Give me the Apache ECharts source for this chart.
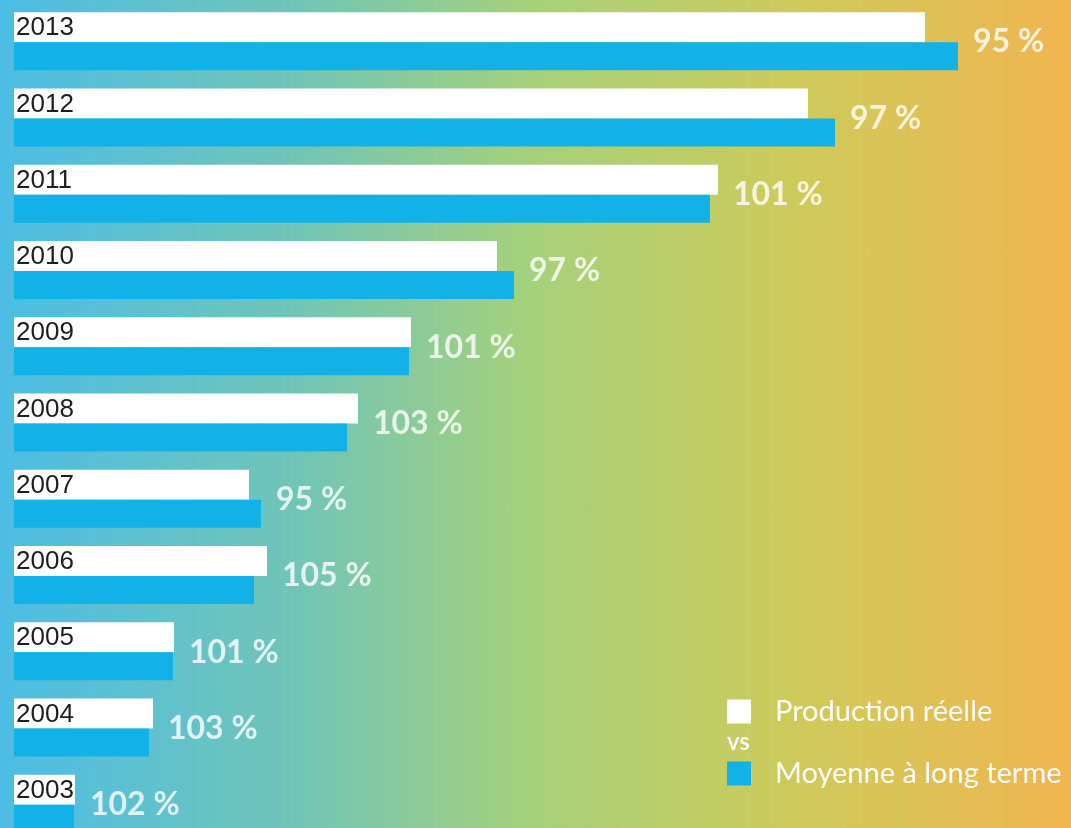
<!DOCTYPE html>
<html>
<head>
<meta charset="utf-8">
<script src="https://cdn.jsdelivr.net/npm/echarts@6/dist/echarts.min.js"></script>
<style>
html,body{margin:0;padding:0;width:1071px;height:828px;overflow:hidden;}
#chart{width:1071px;height:828px;background:linear-gradient(to right,#4cbde5 0%,#72c5b6 28%,#a6d17a 50%,#cfca5a 75%,#f1b550 100%);}
</style>
</head>
<body>
<div id="chart"></div>
<script>
var years = ['2013','2012','2011','2010','2009','2008','2007','2006','2005','2004','2003'];
var production = [911, 794, 704, 483, 397, 344, 235, 253, 160, 139, 61];
var moyenne = [944, 821, 696, 500, 395, 333, 247, 240, 159, 135, 60];
var ratioLabels = ['95 %','97 %','101 %','97 %','101 %','103 %','95 %','105 %','101 %','103 %','102 %'];

var labelPoints = years.map(function (y, i) {
  return [Math.max(production[i], moyenne[i]), y];
});

var chart = echarts.init(document.getElementById('chart'), null, {renderer: 'canvas'});
chart.setOption({
  backgroundColor: 'transparent',
  animation: false,
  grid: {left: 14, top: 3, width: 1057, height: 839, containLabel: false, outerBoundsMode: 'none'},
  xAxis: {
    type: 'value', min: 0, max: 1057,
    axisLine: {show: false}, axisTick: {show: false}, axisLabel: {show: false}, splitLine: {show: false}
  },
  yAxis: {
    type: 'category', data: years, inverse: true,
    axisLine: {show: false}, axisTick: {show: false}, axisLabel: {show: false}, splitLine: {show: false}
  },
  legend: {
    data: ['Production réelle', 'Moyenne à long terme'],
    orient: 'vertical', left: 727, top: 697,
    itemWidth: 24, itemHeight: 24, itemGap: 33, icon: 'rect', padding: 0,
    textStyle: {color: '#ffffff', fontFamily: 'Lato', fontSize: 29, lineHeight: 24, height: 24, padding: [0, 0, 0, 19]},
    selectedMode: false
  },
  graphic: [{
    type: 'text', left: 727, top: 730,
    style: {text: 'vs', fill: '#ffffff', font: '600 24px Lato'}
  }],
  series: [
    {
      name: 'Production réelle', type: 'bar', data: production,
      barWidth: 30, barGap: '0%', itemStyle: {color: '#ffffff'},
      label: {
        show: true, position: 'insideLeft', distance: 2, offset: [0, 1],
        formatter: function (p) { return p.name; },
        color: '#1e1e1e', fontFamily: 'Liberation Sans', fontSize: 26
      }
    },
    {
      name: 'Moyenne à long terme', type: 'bar', data: moyenne,
      barWidth: 28, barGap: '0%', itemStyle: {color: '#12b2e8'}
    },
    {
      name: 'ratio', type: 'scatter', data: labelPoints, symbolSize: 0,
      label: {
        show: true, position: 'right', distance: 15, offset: [0, 1],
        formatter: function (p) { return ratioLabels[p.dataIndex]; },
        color: '#ffffff', fontFamily: 'Lato', fontWeight: 'bold', fontSize: 32
      }
    }
  ]
});
</script>
</body>
</html>
